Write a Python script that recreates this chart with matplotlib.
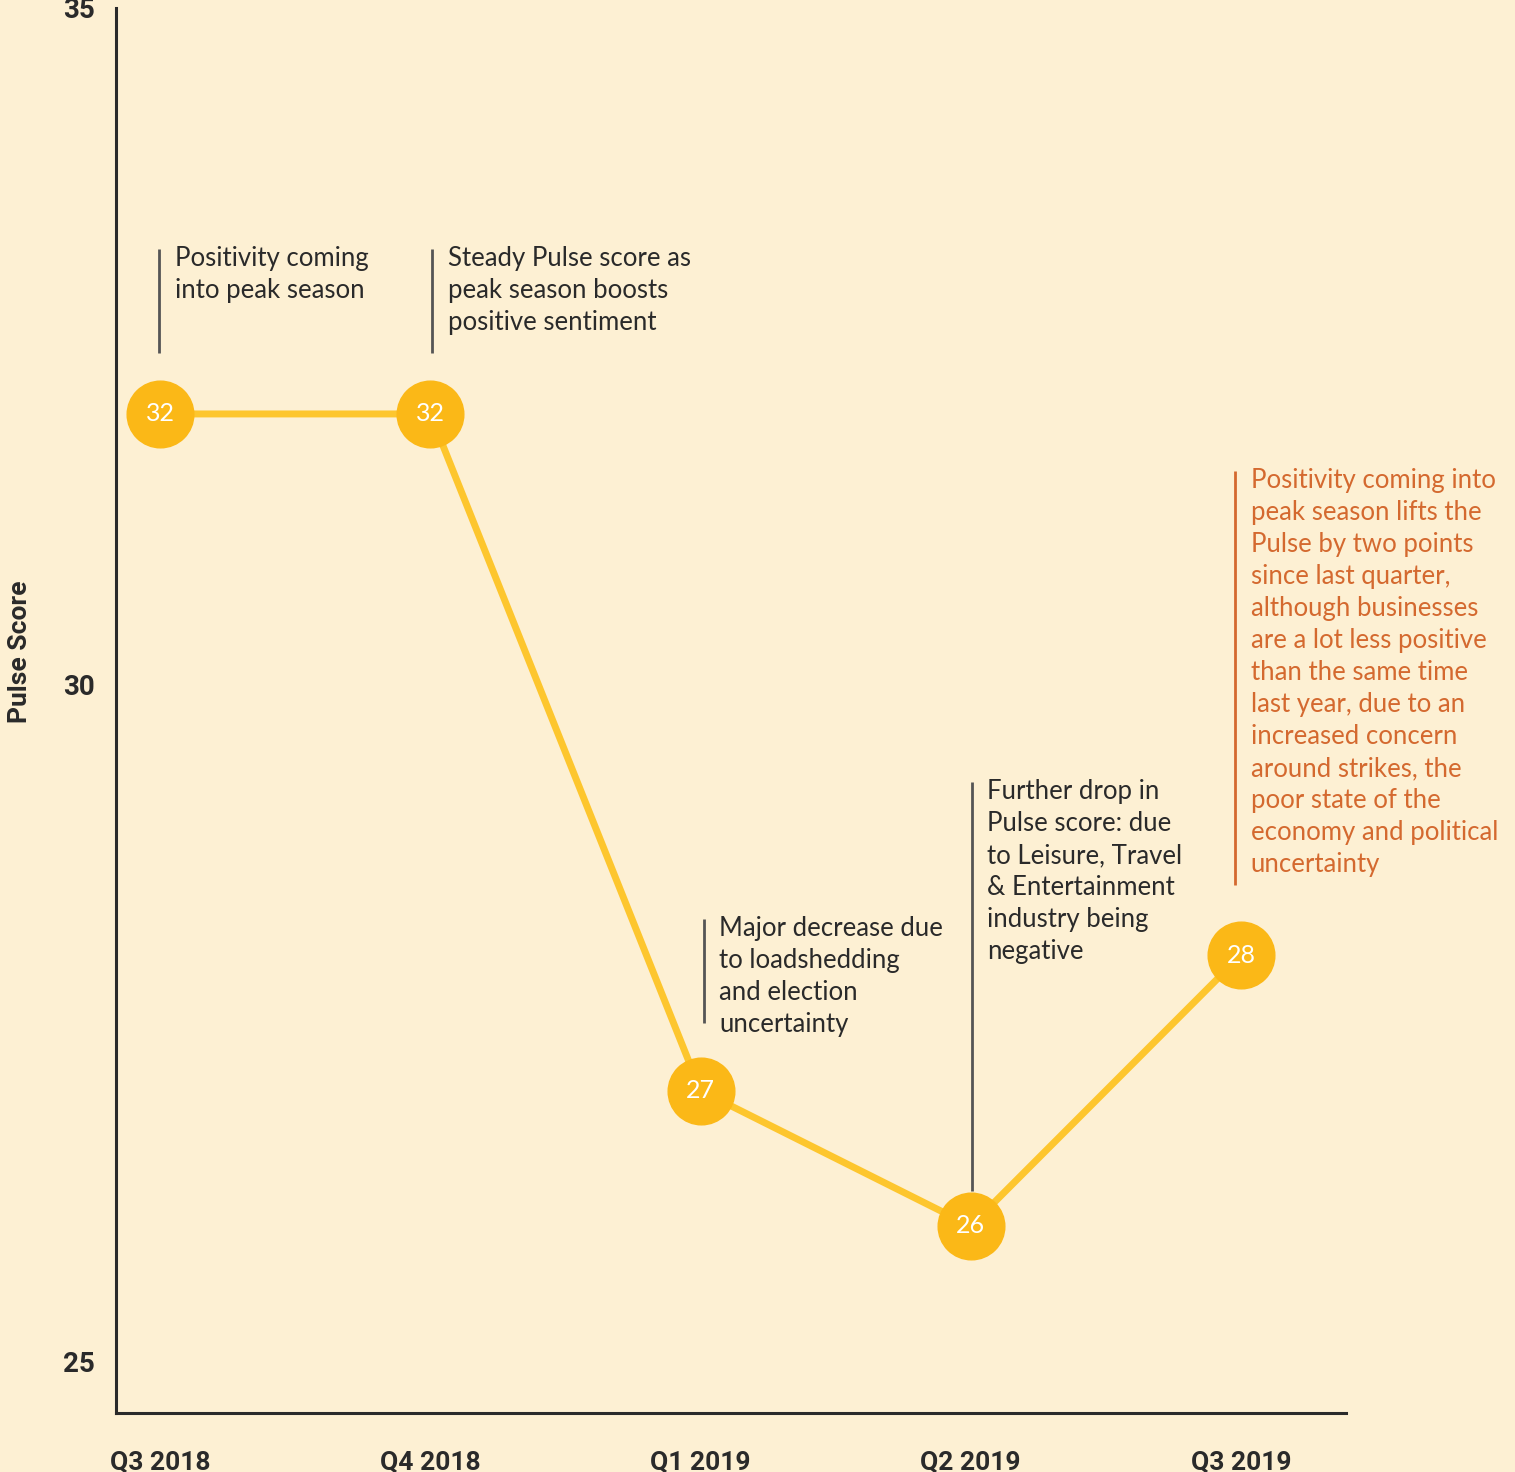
import matplotlib
matplotlib.use("Agg")
import matplotlib.pyplot as plt

# Quarterly Pulse scores
quarters = ["Q3 2018", "Q4 2018", "Q1 2019", "Q2 2019", "Q3 2019"]
scores = [32, 32, 27, 26, 28]
y_ticks = [25, 30, 35]

# Commentary attached to each quarter: (quarter index, x nudge, line top, line bottom, text)
notes = [
    (0, -0.004, 33.22, 32.45, "Positivity coming\ninto peak season"),
    (1, 0.007, 33.22, 32.45, "Steady Pulse score as\npeak season boosts\npositive sentiment"),
    (2, 0.011, 28.27, 27.50, "Major decrease due\nto loadshedding\nand election\nuncertainty"),
    (3, 0.004, 29.28, 26.26, "Further drop in\nPulse score: due\nto Leisure, Travel\n& Entertainment\nindustry being\nnegative"),
]
highlight = (4, -0.022, 31.58, 28.52,
             "Positivity coming into\npeak season lifts the\nPulse by two points\nsince last quarter,\n"
             "although businesses\nare a lot less positive\nthan the same time\nlast year, due to an\n"
             "increased concern\naround strikes, the\npoor state of the\neconomy and political\nuncertainty")

BG = "#FDF0D3"
LINE = "#FDC62E"
DOT = "#FBB817"
DARK = "#2A2A2A"
GREY = "#555555"
ORANGE = "#D4692F"
FONT = "Lato"
BOLD = "Roboto"

fig = plt.figure(figsize=(15.15, 14.72), dpi=100, facecolor=BG)
ax = fig.add_axes([0.0766, 0.0401, 0.8119, 0.9545], facecolor=BG)

x = list(range(len(quarters)))
ax.plot(x, scores, color=LINE, lw=5, zorder=2, solid_capstyle="round")
ax.plot(x, scores, ls="none", marker="o", ms=48, mfc=DOT, mec=DOT, zorder=3)
for xi, s in zip(x, scores):
    ax.text(xi, s, str(s), ha="center", va="center", color="white",
            fontsize=18, family=FONT, zorder=4)

ax.set_xlim(-0.163, 4.389)
ax.set_ylim(24.618, 34.975)

ax.set_xticks(x)
ax.set_xticklabels(quarters, fontsize=19, fontweight="bold", family=BOLD, color=DARK)
ax.set_yticks(y_ticks)
ax.set_yticklabels([str(t) for t in y_ticks], fontsize=20, fontweight="bold", family=BOLD, color=DARK)
ax.tick_params(axis="x", length=0, pad=27)
ax.tick_params(axis="y", length=0, pad=15)
for side in ("top", "right"):
    ax.spines[side].set_visible(False)
for side in ("left", "bottom"):
    ax.spines[side].set_color(DARK)
    ax.spines[side].set_linewidth(2.2)

ax.set_ylabel("Pulse Score", fontsize=19, fontweight="bold", family=BOLD, color=DARK)
ax.yaxis.set_label_coords(-0.068, 0.5416)

def note(idx, dx, top, bottom, text, color, lcolor):
    xl = idx + dx
    ax.plot([xl, xl], [bottom, top], color=lcolor, lw=2, zorder=1, solid_capstyle="butt")
    ax.text(xl + 0.058, top + 0.02, text, ha="left", va="top", fontsize=18.5,
            family=FONT, color=color, linespacing=1.35)

for n in notes:
    note(*n, DARK, GREY)
note(*highlight, ORANGE, ORANGE)

fig.savefig("out.png", dpi=100, facecolor=BG)
